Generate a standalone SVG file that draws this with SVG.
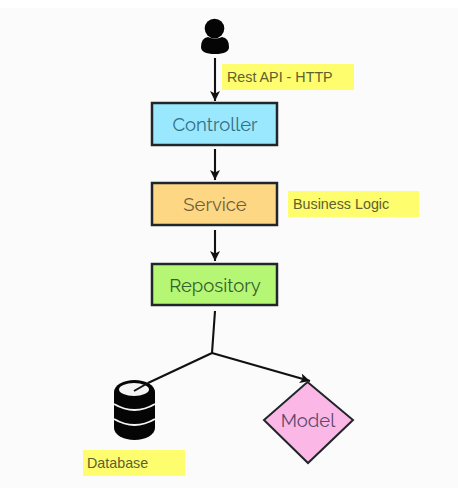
<svg xmlns="http://www.w3.org/2000/svg" width="458" height="488" viewBox="0 0 458 488">
<style>
.box{stroke:#20262a;stroke-width:2.5}
.t{font-family:"Raleway","Lato","Noto Sans",sans-serif;font-size:18.5px;text-anchor:middle;dominant-baseline:central}
.n{font-family:"Liberation Sans",sans-serif;font-size:14.300px;fill:#5f5f30;dominant-baseline:central}
.c{fill:none;stroke:#111;stroke-width:2.1}
.y{fill:#fdfd6e}
.w{fill:none;stroke:#f4f4f4;stroke-width:2}
</style>
<defs>
<marker id="a" markerUnits="userSpaceOnUse" markerWidth="12" markerHeight="12" refX="10" refY="6" orient="auto"><path d="M0,1 L10,6 L0,11 L2.500,6 Z" fill="#111"/></marker>
</defs>
<rect width="458" height="488" fill="#fff"/>
<rect y="8" width="458" height="480" fill="#fbfbfb"/>
<g id="connectors">
<path class="c" d="M215,58V101" marker-end="url(#a)"/>
<path class="c" d="M215,149V180" marker-end="url(#a)"/>
<path class="c" d="M215,230V261" marker-end="url(#a)"/>
<path class="c" d="M215,311L212,353L148,383"/>
<path class="c" d="M212,353L310,381" marker-end="url(#a)"/>
</g>
<g id="user">
<circle cx="214.500" cy="28.500" r="9.800" fill="#050505"/>
<path d="M201,47Q201,38 208,37Q215,40 222,37Q229,38 229,47Q229,54 215,54Q201,54 201,47Z" fill="#050505"/>
</g>
<g id="rest-note"><rect class="y" x="222" y="64" width="132" height="26"/><text class="n" x="227" y="77">Rest API - HTTP</text></g>
<g id="controller"><rect class="box" x="152" y="103" width="125" height="42" fill="#99e8fd"/><text class="t" x="215" y="124" fill="#356f85">Controller</text></g>
<g id="service"><rect class="box" x="152" y="183" width="125" height="42" fill="#fdd784"/><text class="t" x="215" y="204" fill="#6f5f38">Service</text></g>
<g id="business-note"><rect class="y" x="288" y="191" width="131" height="26"/><text class="n" x="293" y="204">Business Logic</text></g>
<g id="repository"><rect class="box" x="152" y="264" width="125" height="41" fill="#b5f774"/><text class="t" x="215" y="285" fill="#35602f">Repository</text></g>
<g id="database">
<path d="M114,392A20.500,12 0 0 1 155,392V428A20.500,12 0 0 1 114,428Z" fill="#050505"/>
<path class="w" d="M114,404Q134.500,416 155,404"/>
<path class="w" d="M114,419Q134.500,431 155,419"/>
<ellipse cx="134" cy="389.500" rx="15" ry="6.500" fill="#f4f4f4"/>
<path d="M148,383L134,391" stroke="#111" stroke-width="2"/>
</g>
<g id="database-note"><rect class="y" x="83" y="450" width="102" height="26"/><text class="n" x="87" y="463">Database</text></g>
<g id="model"><path class="box" d="M307.500,382L353,420L308,463L264,420Z" fill="#fbb8e6" style="stroke-width:2"/><text class="t" x="308" y="420" fill="#5f4a6b">Model</text></g>
</svg>
